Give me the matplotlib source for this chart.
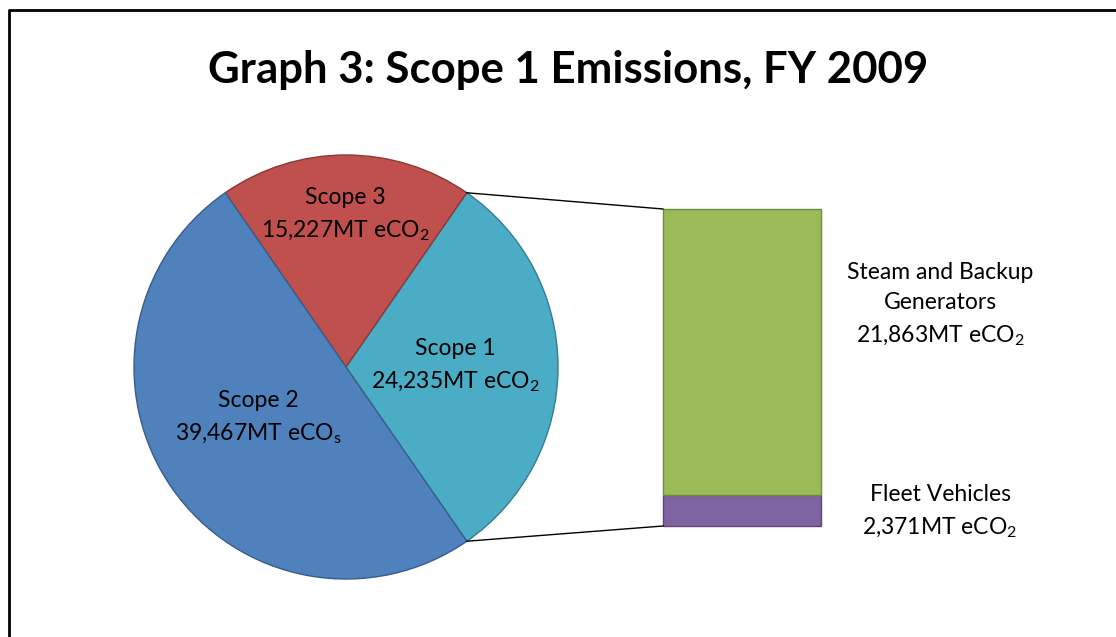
import numpy as np
import matplotlib.pyplot as plt

plt.rcParams['font.family'] = ['Lato', 'DejaVu Sans']
plt.rcParams['mathtext.fontset'] = 'custom'
plt.rcParams['mathtext.rm'] = 'Lato'
plt.rcParams['mathtext.it'] = 'Lato'

# pie data
scopes = ["Scope 1", "Scope 3", "Scope 2"]
scope_vals = [24235, 15227, 39467]
scope_labels = ["Scope 1\n24,235MT eCO$_2$",
                "Scope 3\n15,227MT eCO$_2$",
                "Scope 2\n39,467MT eCO$_s$"]
scope_colors = ["#4BACC6", "#C0504D", "#4F81BD"]
scope_edges = ["#357D91", "#8C3836", "#385D8A"]

# bar-of-pie breakdown of scope 1
parts = ["Fleet Vehicles", "Steam and Backup Generators"]
part_vals = [2371, 21863]
part_labels = ["Fleet Vehicles\n2,371MT eCO$_2$",
               "Steam and Backup\nGenerators\n21,863MT eCO$_2$"]
part_colors = ["#8064A2", "#9BBB59"]
part_edges = ["#5C4776", "#71893F"]

W, H = 1116, 637
fig = plt.figure(figsize=(W / 100, H / 100), dpi=100)
ax = fig.add_axes([0, 0, 1, 1])

cx, cy, r = 346, 270, 212
total = sum(scope_vals)
half = 180 * scope_vals[0] / total
wedges, _ = ax.pie(scope_vals, colors=scope_colors, startangle=-half,
                   center=(cx, cy), radius=r, frame=True,
                   wedgeprops=dict(linewidth=1.0))
for w, ec in zip(wedges, scope_edges):
    w.set_edgecolor(ec)
ax.set_xlim(0, W)
ax.set_ylim(0, H)
ax.set_aspect('equal')
ax.axis('off')

fs = 16.5
ls = 1.55
label_pos = [(455, 271), (345, 422), (258, 219)]
for (x, y), t in zip(label_pos, scope_labels):
    ax.text(x, y, t, ha='center', va='center', fontsize=fs, linespacing=ls)

# stacked bar
bx, bw = 742, 158
b_bottom, b_height = 111, 317
scale = b_height / sum(part_vals)
bottom = b_bottom
for v, c, ec in zip(part_vals, part_colors, part_edges):
    ax.bar(bx, v * scale, width=bw, bottom=bottom, color=c, edgecolor=ec,
           linewidth=1.0)
    bottom += v * scale

# connector lines
a = np.deg2rad(half)
ax.plot([cx + r * np.cos(a), bx - bw / 2], [cy + r * np.sin(a), b_bottom + b_height],
        color='black', lw=1.0)
ax.plot([cx + r * np.cos(a), bx - bw / 2], [cy - r * np.sin(a), b_bottom],
        color='black', lw=1.0)

ax.text(940, 332, part_labels[1], ha='center', va='center', fontsize=fs,
        linespacing=ls)
ax.text(940, 125, part_labels[0], ha='center', va='center', fontsize=fs,
        linespacing=ls)

ax.text(568, 567, "Graph 3: Scope 1 Emissions, FY 2009", ha='center',
        va='center', fontsize=31.5, fontweight='bold')

# outer frame
ax.plot([9, 9, W + 5], [-5, 627, 627], color='black', lw=2.0, clip_on=False)

fig.savefig("out.png", dpi=100)
